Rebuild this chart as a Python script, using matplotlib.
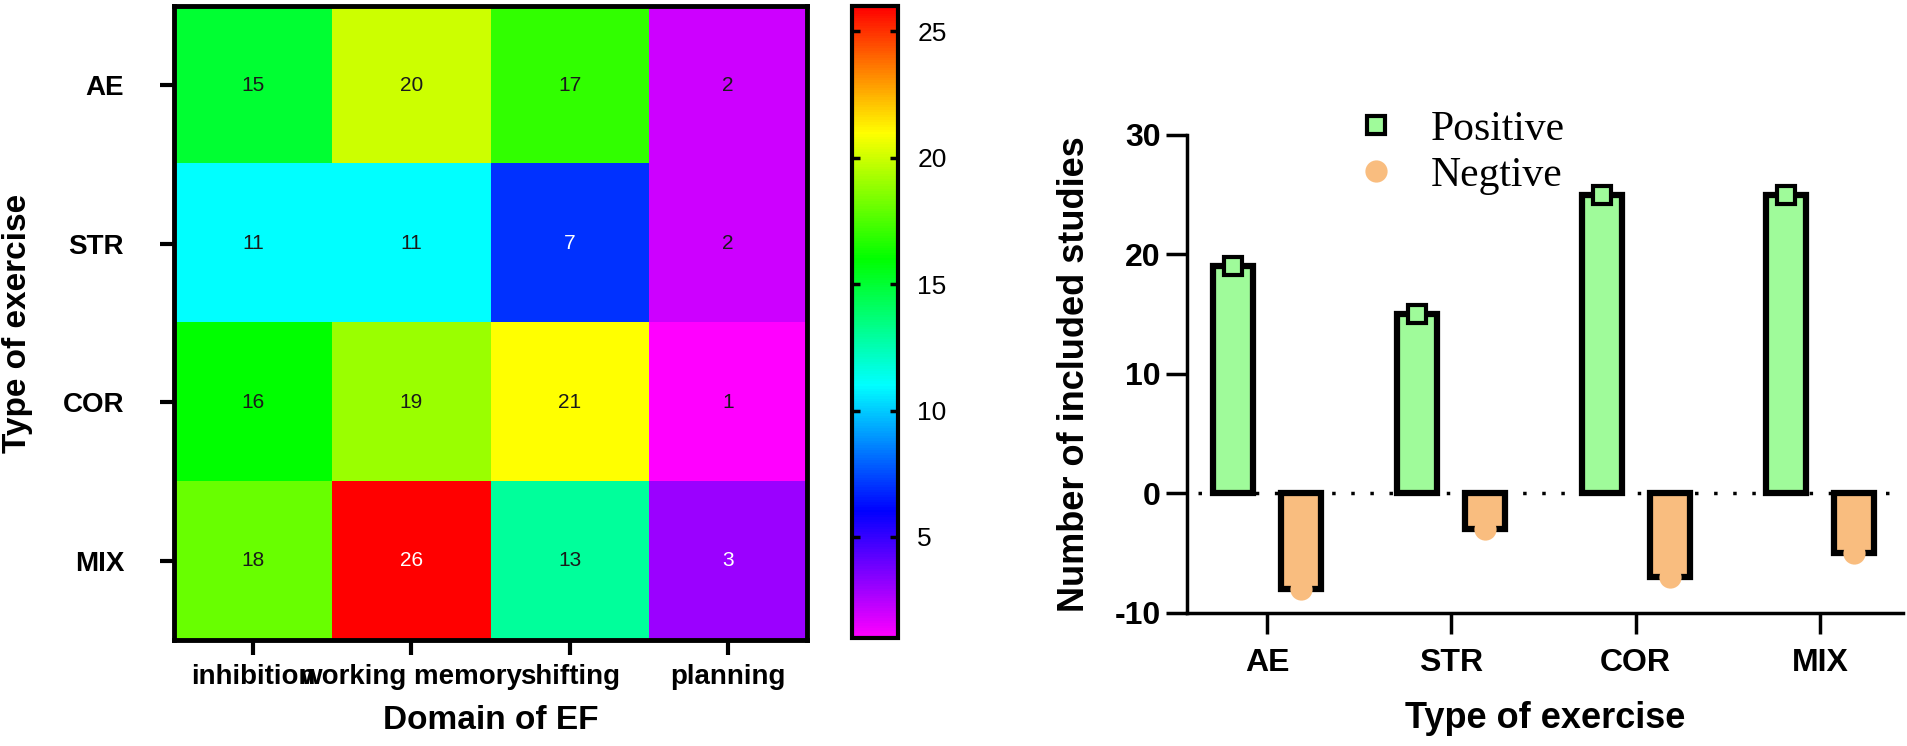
import numpy as np
import matplotlib
matplotlib.use('Agg')
import matplotlib.pyplot as plt
from matplotlib.colors import LinearSegmentedColormap
from matplotlib.lines import Line2D

plt.rcParams['font.family'] = ['Liberation Sans', 'DejaVu Sans']
plt.rcParams['axes.unicode_minus'] = False

# heatmap data: rows = type of exercise, cols = domain of EF
exercise_types = ['AE', 'STR', 'COR', 'MIX']
ef_domains = ['inhibition', 'working memory', 'shifting', 'planning']
counts = np.array([
    [15, 20, 17, 2],
    [11, 11, 7, 2],
    [16, 19, 21, 1],
    [18, 26, 13, 3],
])

# bar chart data
bar_categories = ['AE', 'STR', 'COR', 'MIX']
positive = [19, 15, 25, 25]
negative = [-8, -3, -7, -5]

green = '#9ffb9a'
orange = '#f9bd7f'

fig = plt.figure(figsize=(19.08, 7.46), dpi=100)

# ---- heatmap ----
ax1 = fig.add_axes([0.0912, 0.1421, 0.3318, 0.850])
cmap = LinearSegmentedColormap.from_list(
    'rainbow_mag', ['#ff00ff', '#0000ff', '#00ffff', '#00ff00', '#ffff00', '#ff0000'])
im = ax1.imshow(counts, cmap=cmap, vmin=1, vmax=26, aspect='auto')

for i in range(counts.shape[0]):
    for j in range(counts.shape[1]):
        r, g, b, _ = cmap((counts[i, j] - 1) / 25)
        lum = 0.299 * r + 0.587 * g + 0.114 * b
        ax1.text(j, i, str(counts[i, j]), ha='center', va='center', fontsize=15,
                 color='white' if lum < 0.33 else '#1a1a1a')

ax1.set_xticks(range(len(ef_domains)))
ax1.set_xticklabels(ef_domains, fontsize=20, fontweight='bold')
ax1.set_yticks(range(len(exercise_types)))
ax1.set_yticklabels(exercise_types, fontsize=20, fontweight='bold')
ax1.tick_params(axis='y', length=10, width=3, pad=26)
ax1.tick_params(axis='x', length=11, width=3, pad=6)
for sp in ax1.spines.values():
    sp.set_linewidth(3.5)
ax1.set_xlabel('Domain of EF', fontsize=24, fontweight='bold')
ax1.xaxis.set_label_coords(0.5, -0.103)
ax1.set_ylabel('Type of exercise', fontsize=24, fontweight='bold')
ax1.yaxis.set_label_coords(-0.222, 0.5)

# colorbar
cax = fig.add_axes([0.4465, 0.1448, 0.0241, 0.847])
cb = fig.colorbar(im, cax=cax, ticks=[5, 10, 15, 20, 25])
cb.outline.set_linewidth(3)
cax.tick_params(direction='in', left=True, right=True, length=6, width=2.5,
                labelsize=19, pad=14)

# ---- bar chart ----
ax2 = fig.add_axes([0.6221, 0.1783, 0.3753, 0.6408])
x = np.arange(len(bar_categories))
off = 0.185
w = 0.217
ax2.bar(x - off, positive, width=w, color=green, edgecolor='black', linewidth=4.5, zorder=2)
ax2.bar(x + off, negative, width=w, color=orange, edgecolor='black', linewidth=4.5, zorder=2)
ax2.plot(x - off, positive, 's', ms=13, mfc=green, mec='black', mew=3, ls='none', zorder=3)
ax2.plot(x + off, negative, 'o', ms=16, mfc=orange, mec=orange, mew=0, ls='none', zorder=3)
ax2.axhline(0, xmin=0.015, color='black', linestyle=(0, (1, 4.5)), linewidth=2.5, zorder=1)

ax2.set_xlim(-0.434, 3.45)
ax2.set_ylim(-10, 30)
ax2.set_yticks([-10, 0, 10, 20, 30])
ax2.set_xticks(x)
ax2.set_xticklabels(bar_categories)
for lab in ax2.get_xticklabels() + ax2.get_yticklabels():
    lab.set_fontsize(23)
    lab.set_fontweight('bold')
ax2.spines['top'].set_visible(False)
ax2.spines['right'].set_visible(False)
ax2.spines['left'].set_linewidth(2.5)
ax2.spines['bottom'].set_linewidth(2.5)
ax2.tick_params(axis='y', length=15, width=2.5, pad=4)
ax2.tick_params(axis='x', length=15, width=2.5, pad=10)
ax2.set_xlabel('Type of exercise', fontsize=26, fontweight='bold')
ax2.xaxis.set_label_coords(0.5, -0.185)
ax2.set_ylabel('Number of included studies', fontsize=26, fontweight='bold')
ax2.yaxis.set_label_coords(-0.133, 0.5)

handles = [
    Line2D([], [], marker='s', ms=13, mfc=green, mec='black', mew=3, ls='none'),
    Line2D([], [], marker='o', ms=16, mfc=orange, mec=orange, mew=0, ls='none'),
]
fig.legend(handles, ['Positive', 'Negtive'], loc='upper left',
           bbox_to_anchor=(1318 / 1908, 1 - 73 / 746), frameon=False,
           prop={'family': ['Liberation Serif', 'DejaVu Serif'], 'size': 30},
           handlelength=1, handletextpad=0.8, labelspacing=0.17, borderpad=0.4)

fig.savefig('out.png', dpi=100)
